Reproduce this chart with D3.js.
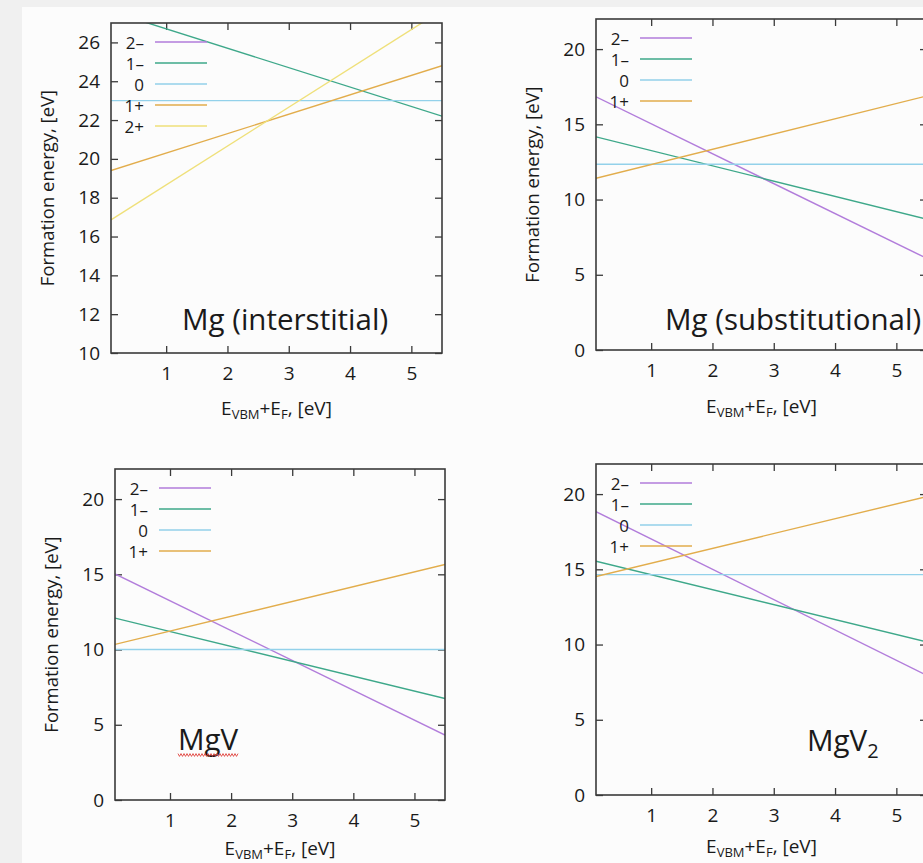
<!DOCTYPE html>
<html>
<head>
<meta charset="utf-8">
<script src="https://cdn.jsdelivr.net/npm/d3@7"></script>
<style>
  html, body { margin: 0; padding: 0; background: #f0f0f0; }
  svg { display: block; }
  text { font-family: "Open Sans", "Noto Sans", sans-serif; fill: #1a1a1a; }
</style>
</head>
<body>
<svg id="chart" width="923" height="863"></svg>
<script>
// Charge states and their line colours
const charges = ["2–", "1–", "0", "1+", "2+"];
const chargeColors = ["#b27ddb", "#3ea88a", "#93d1ea", "#e2ad4c", "#efe07a"];

// Fermi-level range: each line is given by its formation energy at both ends
const fermiEnds = [0.1, 5.5];

// Formation energies [eV] at E = 0.1 and E = 5.5, one pair per charge state
const mgInterstitial   = [null, [27.6, 22.2], [23.0, 23.0], [19.4, 24.8], [16.86, 27.66]];
const mgSubstitutional = [[16.83, 6.08], [14.17, 8.69], [12.35, 12.35], [11.41, 16.89]];
const mgV              = [[15.03, 4.31], [12.09, 6.74], [10.0, 10.0], [10.34, 15.65]];
const mgV2             = [[18.83, 7.95], [15.54, 10.17], [14.65, 14.65], [14.52, 19.84]];

// Axis ticks
const xTicks = [1, 2, 3, 4, 5];
const yTicksInterstitial = [10, 12, 14, 16, 18, 20, 22, 24, 26];
const yTicksOther = [0, 5, 10, 15, 20];

const panels = [
  { data: mgInterstitial, legend: 5, yDomain: [10, 27], yTicks: yTicksInterstitial,
    box: { left: 111, top: 23, right: 442, bottom: 353 }, yTitle: true, xTitleDy: 62,
    title: [{ t: "Mg (interstitial)" }], titlePos: [71, -23] },
  { data: mgSubstitutional, legend: 4, yDomain: [0, 22], yTicks: yTicksOther,
    box: { left: 596, top: 19, right: 927, bottom: 350 }, yTitle: true, xTitleDy: 63,
    title: [{ t: "Mg (substitutional)" }], titlePos: [69, -20] },
  { data: mgV, legend: 4, yDomain: [0, 22], yTicks: yTicksOther,
    box: { left: 115, top: 469, right: 445, bottom: 800 }, yTitle: true, xTitleDy: 55,
    title: [{ t: "MgV" }], titlePos: [63, -50], squiggle: true },
  { data: mgV2, legend: 4, yDomain: [0, 22], yTicks: yTicksOther,
    box: { left: 596, top: 464, right: 927, bottom: 795 }, yTitle: false, xTitleDy: 58,
    title: [{ t: "MgV" }, { t: "2", sub: true }], titlePos: [211, -44] }
];

const svg = d3.select("#chart");

// page background: grey margin with a white sheet
svg.append("rect").attr("x", 0).attr("y", 0).attr("width", 923).attr("height", 863).attr("fill", "#f0f0f0");
svg.append("rect").attr("x", 22).attr("y", 7).attr("width", 901).attr("height", 856).attr("fill", "#fcfcfc");

const axisColor = "#3a3a3a";
const tickLen = 7;

panels.forEach((p, pi) => {
  const b = p.box;
  const x = d3.scaleLinear().domain(fermiEnds).range([b.left, b.right]);
  const y = d3.scaleLinear().domain(p.yDomain).range([b.bottom, b.top]);
  const g = svg.append("g");

  const clipId = "clip" + pi;
  g.append("clipPath").attr("id", clipId)
    .append("rect").attr("x", b.left).attr("y", b.top)
    .attr("width", b.right - b.left).attr("height", b.bottom - b.top);

  // inward ticks on all four sides
  const axB = d3.axisBottom(x).tickValues(xTicks).tickSizeInner(-tickLen).tickSizeOuter(0).tickFormat(d3.format("d")).tickPadding(14);
  const axT = d3.axisTop(x).tickValues(xTicks).tickSizeInner(-tickLen).tickSizeOuter(0).tickFormat("");
  const axL = d3.axisLeft(y).tickValues(p.yTicks).tickSizeInner(-tickLen).tickSizeOuter(0).tickFormat(d3.format("d")).tickPadding(11);
  const axR = d3.axisRight(y).tickValues(p.yTicks).tickSizeInner(-tickLen).tickSizeOuter(0).tickFormat("");

  const styleAxis = sel => {
    sel.select(".domain").remove();
    sel.selectAll(".tick line").attr("stroke", axisColor).attr("stroke-width", 1.3);
    sel.selectAll(".tick text").attr("fill", "#1a1a1a").style("font-size", "19px")
      .style("font-family", '"Open Sans", sans-serif');
  };
  g.append("g").attr("transform", `translate(0,${b.bottom})`).call(axB).call(styleAxis);
  g.append("g").attr("transform", `translate(0,${b.top})`).call(axT).call(styleAxis);
  g.append("g").attr("transform", `translate(${b.left},0)`).call(axL).call(styleAxis);
  g.append("g").attr("transform", `translate(${b.right},0)`).call(axR).call(styleAxis);

  // formation-energy lines
  const line = d3.line().x((d, i) => x(fermiEnds[i])).y(d => y(d));
  const lines = g.append("g").attr("clip-path", `url(#${clipId})`);
  p.data.forEach((ends, qi) => {
    if (!ends) return;
    lines.append("path").attr("d", line(ends)).attr("fill", "none")
      .attr("stroke", chargeColors[qi]).attr("stroke-width", 1.4);
  });

  // legend
  const lg = g.append("g").attr("transform", `translate(${b.left},${b.top})`);
  for (let qi = 0; qi < p.legend; qi++) {
    const ry = 19 + 21 * qi;
    lg.append("text").attr("x", 33).attr("y", ry).attr("text-anchor", "end")
      .attr("dominant-baseline", "central").style("font-size", "17px").text(charges[qi]);
    lg.append("line").attr("x1", 44).attr("x2", 96).attr("y1", ry).attr("y2", ry)
      .attr("stroke", chargeColors[qi]).attr("stroke-width", 1.6);
  }

  // frame
  g.append("rect").attr("x", b.left).attr("y", b.top)
    .attr("width", b.right - b.left).attr("height", b.bottom - b.top)
    .attr("fill", "none").attr("stroke", axisColor).attr("stroke-width", 1.6);

  // panel name
  const tt = g.append("text").attr("x", b.left + p.titlePos[0]).attr("y", b.bottom + p.titlePos[1])
    .style("font-size", "29.5px").attr("fill", "#111");
  p.title.forEach(part => {
    const s = tt.append("tspan").text(part.t);
    if (part.sub) s.attr("dy", 7).style("font-size", "20px");
  });
  if (p.squiggle) {
    const bb = tt.node().getBBox();
    const sy = b.bottom + p.titlePos[1] + 5;
    const pts = d3.range(bb.x, bb.x + bb.width + 0.1, 1.5).map((px, k) => [px, sy + (k % 2 ? 1.4 : -1.4)]);
    g.append("path").attr("d", d3.line()(pts)).attr("fill", "none").attr("stroke", "#e0453f").attr("stroke-width", 0.9);
  }

  // axis titles
  const xt = g.append("text").attr("x", (b.left + b.right) / 2).attr("y", b.bottom + p.xTitleDy)
    .attr("text-anchor", "middle").style("font-size", "19px");
  xt.append("tspan").text("E");
  xt.append("tspan").text("VBM").attr("dy", 4).style("font-size", "13px");
  xt.append("tspan").text("+E").attr("dy", -4);
  xt.append("tspan").text("F").attr("dy", 4).style("font-size", "13px");
  xt.append("tspan").text(", [eV]").attr("dy", -4);

  if (p.yTitle) {
    g.append("text").attr("transform", `translate(${b.left - 65},${(b.top + b.bottom) / 2}) rotate(-90)`)
      .attr("text-anchor", "middle").attr("dominant-baseline", "central")
      .style("font-size", "18.5px").text("Formation energy, [eV]");
  }
});
</script>
</body>
</html>
